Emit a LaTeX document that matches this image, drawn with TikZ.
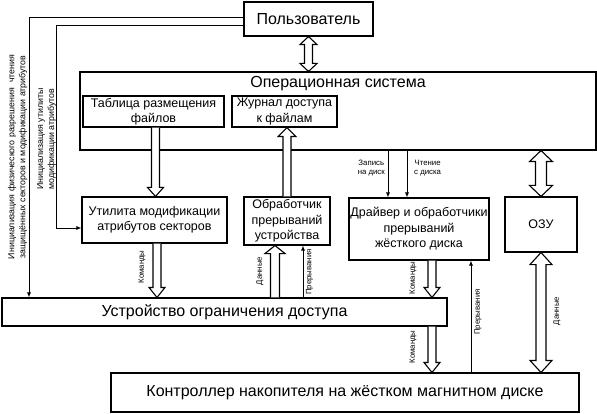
\documentclass[tikz,border=0pt]{standalone}
\usepackage{fontspec}
\setmainfont{Liberation Sans}
\usetikzlibrary{arrows.meta,calc}

\newcommand\blkarrow[5]{%
  \draw[blk] let \p1=#1, \p2=#2, \n1={sign(\y2-\y1)} in
    (\x1-#3,\y1) -- (\x1-#3,\y2-\n1*#5) -- (\x1-#4,\y2-\n1*#5) -- (\x1,\y2)
    -- (\x1+#4,\y2-\n1*#5) -- (\x1+#3,\y2-\n1*#5) -- (\x1+#3,\y1);}
\newcommand\dblarrow[5]{%
  \draw[blk] let \p1=#1, \p2=#2, \n1={sign(\y2-\y1)} in
    (\x1-#3,\y1+\n1*#5) -- (\x1-#3,\y2-\n1*#5) -- (\x1-#4,\y2-\n1*#5) -- (\x1,\y2)
    -- (\x1+#4,\y2-\n1*#5) -- (\x1+#3,\y2-\n1*#5) -- (\x1+#3,\y1+\n1*#5)
    -- (\x1+#4,\y1+\n1*#5) -- (\x1,\y1) -- (\x1-#4,\y1+\n1*#5) -- cycle;}

\tikzset{
  box/.style={draw, line width=1.1pt, inner sep=0pt, align=center,
    font=\fontsize{12.5}{15.5}\selectfont},
  bigbox/.style={box, font=\fontsize{16}{19}\selectfont},
  bigtext/.style={inner sep=0pt, font=\fontsize{16}{19}\selectfont},
  blk/.style={draw, line width=1.1pt, line join=miter, fill=white},
  thinarr/.style={draw, line width=0.8pt, -{Latex[length=5pt,width=4pt]}},
  lbl/.style={font=\fontsize{7.8}{9.5}\selectfont, inner sep=0pt},
  sidelbl/.style={font=\fontsize{8.8}{11}\selectfont, inner sep=0pt, align=center, rotate=90},
}

\begin{document}
\begin{tikzpicture}[x=1pt,y=-1pt]
\useasboundingbox (0,0) rectangle (597,414);

% boxes
\node[bigbox, minimum width=129pt, minimum height=34pt] (user) at (308.5,19) {Пользователь};
\node[box, minimum width=516pt, minimum height=78pt] (os) at (338,111) {};
\node[bigtext, anchor=base] (ostitle) at (338,88) {Операционная система};
\node[box, minimum width=141pt, minimum height=31pt] (tab) at (153.5,111.5) {Таблица размещения\\файлов};
\node[box, minimum width=105pt, minimum height=31pt] (jour) at (284.5,111.5) {Журнал доступа\\к файлам};
\node[box, minimum width=145pt, minimum height=46pt] (util) at (154.5,220) {Утилита модификации\\атрибутов секторов};
\node[box, minimum width=86pt, minimum height=48pt] (obr) at (287,221) {Обработчик\\прерываний\\устройства};
\node[box, minimum width=140pt, minimum height=62pt] (drv) at (419,229) {Драйвер и обработчики\\прерываний\\жёсткого диска};
\node[box, minimum width=72pt, minimum height=55pt] (ozu) at (541,224.5) {ОЗУ};
\node[bigbox, minimum width=445pt, minimum height=28pt] (dev) at (224.5,312) {Устройство ограничения доступа};
\node[bigbox, minimum width=468pt, minimum height=39pt] (ctrl) at (345,392.5) {Контроллер накопителя на жёстком магнитном диске};

% block arrows
\dblarrow{(user.south)}{(user.south |- os.north)}{4pt}{8.5pt}{8pt}
\blkarrow{([xshift=2pt]tab.south)}{([xshift=2pt]tab.south |- util.north)}{4pt}{8pt}{9pt}
\blkarrow{(obr.north)}{(obr.north |- jour.south)}{4pt}{9pt}{9pt}
\blkarrow{([xshift=2.5pt]util.south)}{([xshift=2.5pt]util.south |- dev.north)}{4pt}{8pt}{10pt}
\blkarrow{([xshift=-12pt]obr.south |- dev.north)}{([xshift=-12pt]obr.south)}{4.5pt}{10pt}{8pt}
\blkarrow{([xshift=13pt]drv.south)}{([xshift=13pt]drv.south |- dev.north)}{4pt}{8pt}{10pt}
\blkarrow{([xshift=13pt]drv.south |- dev.south)}{([xshift=13pt]drv.south |- ctrl.north)}{4pt}{8pt}{10pt}
\dblarrow{(ozu.north |- os.south)}{(ozu.north)}{5.5pt}{11.5pt}{11pt}
\dblarrow{(ozu.south)}{(ozu.south |- ctrl.north)}{5pt}{11pt}{12pt}

% thin arrows
\draw[thinarr] ([xshift=-31pt]drv.north |- os.south) -- ([xshift=-31pt]drv.north);
\draw[thinarr] ([xshift=-12pt]drv.north |- os.south) -- ([xshift=-12pt]drv.north);
\draw[thinarr] ([xshift=16pt]obr.south |- dev.north) -- ([xshift=16pt]obr.south);
\draw[thinarr] ([xshift=52pt]drv.south |- ctrl.north) -- ([xshift=52pt]drv.south);

\coordinate (t1) at (29,17);
\coordinate (t2) at (56,25);
\coordinate (t3) at (56,228);
\draw[thinarr] (user.west |- t1) -- (t1) -- (t1 |- dev.north);
\draw[thinarr] (user.west |- t2) -- (t2) -- (t3) -- (t3 -| util.west);

% labels
\node[lbl, anchor=east, align=center] (lzap) at (385,168) {Запись\\на диск};
\node[lbl, anchor=west, align=center] (lcht) at (414,168) {Чтение\\с диска};
\node[lbl, rotate=90] (lkom1) at (142,267) {Команды};
\node[lbl, rotate=90] (ldan1) at (260,271) {Данные};
\node[lbl, rotate=90] (lpr1) at (309.5,272) {Прерывания};
\node[lbl, rotate=90] (lkom2) at (413,278) {Команды};
\node[lbl, rotate=90] (lkom3) at (413,347) {Команды};
\node[lbl, rotate=90] (lpr2) at (478,312) {Прерывания};
\node[lbl, rotate=90] (ldan2) at (557,311) {Данные};
\node[sidelbl] (side1) at (17.5,157) {Инициализация физического разрешения\ \ чтения\\защищённых секторов и модификации атрибутов};
\node[sidelbl] (side2) at (46.5,139) {Инициализация утилиты\\модификации атрибутов};
\end{tikzpicture}
\end{document}
